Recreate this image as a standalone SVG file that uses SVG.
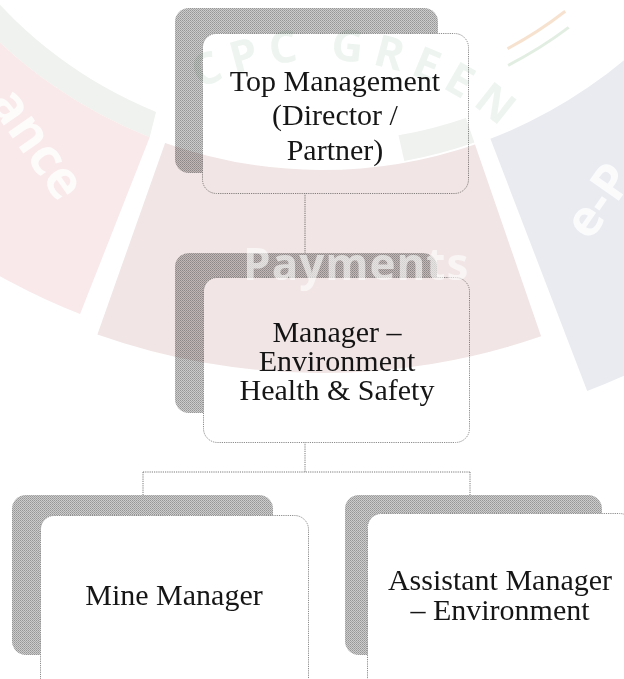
<svg xmlns="http://www.w3.org/2000/svg" width="624" height="679" viewBox="0 0 624 679">
<defs>
 <pattern id="halftone" width="2" height="2" patternUnits="userSpaceOnUse">
  <rect width="2" height="2" fill="#cccccc"/>
  <rect width="1" height="1" fill="#969696"/>
  <rect x="1" y="1" width="1" height="1" fill="#a5a5a5"/>
 </pattern>
 <path id="wmArc" d="M 52 330 A 270 270 0 0 1 592 330"/>
</defs>
<style>
 .back{fill:url(#halftone);}
 .front{fill:#fff;stroke:#8c8c8c;stroke-width:1;stroke-dasharray:1.2 1;}
 .lbl{font-family:"Liberation Serif","Times New Roman",serif;font-size:30px;fill:#161616;text-anchor:middle;}
 .conn{stroke:#7a7a7a;stroke-width:1;stroke-dasharray:1.2 1;fill:none;}
 .wm{mix-blend-mode:multiply;}
 .wmtxt{font-family:"Open Sans","Noto Sans",sans-serif;font-weight:700;}
</style>
<rect width="624" height="679" fill="#fff"/>
<g id="connectors">
 <path class="conn" d="M305 193V253"/>
 <path class="conn" d="M305 442V472M143 472H470M143 472V495M470 472V495"/>
</g>
<g id="node-top">
 <rect class="back" x="175" y="8" width="263" height="165" rx="14"/>
 <rect class="front" x="202.5" y="33.5" width="266" height="160" rx="14"/>
 <text class="lbl" x="335" y="91">Top Management</text>
 <text class="lbl" x="335" y="125">(Director /</text>
 <text class="lbl" x="335" y="160">Partner)</text>
</g>
<g id="node-manager-ehs">
 <rect class="back" x="175" y="253" width="262" height="160" rx="14"/>
 <rect class="front" x="203.5" y="277.5" width="266" height="165" rx="14"/>
 <text class="lbl" x="337" y="342">Manager –</text>
 <text class="lbl" x="337" y="371">Environment</text>
 <text class="lbl" x="337" y="400">Health &amp; Safety</text>
</g>
<g id="node-mine-manager">
 <rect class="back" x="12" y="495" width="261" height="160" rx="14"/>
 <rect class="front" x="40.5" y="515.5" width="268" height="180" rx="14"/>
 <text class="lbl" x="174" y="605">Mine Manager</text>
</g>
<g id="node-assistant-manager">
 <rect class="back" x="345" y="495" width="257" height="160" rx="14"/>
 <rect class="front" x="367.5" y="513.5" width="266" height="180" rx="14"/>
 <text class="lbl" x="500" y="590">Assistant Manager</text>
 <text class="lbl" x="500" y="620">– Environment</text>
</g>
<g id="watermark">
 <g class="wm">
  <path fill="#eff2ee" d="M 149.7 137.3 A 470 470 0 0 1 -132 -178.4 L -113.3 -223.3 A 442 442 0 0 0 156 112 Z"/>
  <path fill="#eff2ee" d="M 474.4 142.5 A 468 468 0 0 1 404.3 161 L 398.5 135.3 A 442 442 0 0 0 465.9 117.9 Z"/>
  <path fill="#f9e9ea" d="M 80.1 314.1 A 660 660 0 0 1 -315.5 -129.2 L -132 -178.4 A 470 470 0 0 0 149.7 137.3 Z"/>
  <path fill="#f1e5e5" d="M 541.1 336.3 A 673 673 0 0 1 97.4 334.4 L 165.1 143 A 470 470 0 0 0 475 144.4 Z"/>
  <path fill="#e9ebf1" d="M 490.4 138.8 A 470 470 0 0 0 776 -178.4 L 1036.8 -108.5 A 740 740 0 0 1 587.2 390.9 Z"/>
  <path fill="none" stroke="#f7e2cf" stroke-width="3" d="M 565.2 11.3 A 395 395 0 0 1 507.5 48.7"/>
  <path fill="none" stroke="#e3eee3" stroke-width="3" d="M 568.7 27.4 A 410 410 0 0 1 508.1 65.3"/>
  <text class="wmtxt" font-size="44" fill="#eef5f0" letter-spacing="10"><textPath href="#wmArc" startOffset="35%">CPC GREEN</textPath></text>
 </g>
 <text class="wmtxt" font-size="52" fill="#ffffff" fill-opacity="0.8" transform="translate(-12 103) rotate(55)">ance</text>
 <text class="wmtxt" font-size="50" fill="#ffffff" fill-opacity="0.8" transform="translate(590 242) rotate(-55)">e-P</text>
 <text class="wmtxt" font-size="44" fill="#ffffff" fill-opacity="0.6" x="243" y="280" letter-spacing="1">Payments</text>
</g>
</svg>
